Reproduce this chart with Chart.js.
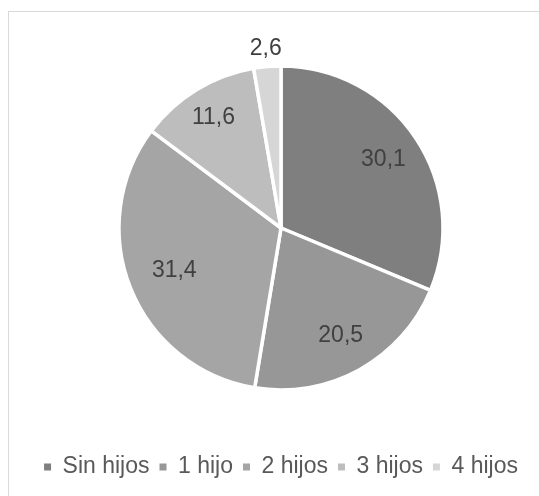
<!DOCTYPE html>
<html>
<head>
<meta charset="utf-8">
<script src="https://cdn.jsdelivr.net/npm/chart.js@4"></script>
<style>
  html, body { margin: 0; padding: 0; background: #ffffff; }
  #wrap { position: relative; width: 539px; height: 496px; overflow: hidden; }
  #frame { position: absolute; left: 8px; top: 11px; width: 700px; height: 700px;
           border: 1px solid #d9d9d9; box-sizing: border-box; }
  #c { position: absolute; left: 0; top: 0; }
</style>
</head>
<body>
<div id="wrap">
  <div id="frame"></div>
  <canvas id="c" width="539" height="496"></canvas>
</div>
<script>
// ---- data ----
const categories = ['Sin hijos', '1 hijo', '2 hijos', '3 hijos', '4 hijos'];
const values = [30.1, 20.5, 31.4, 11.6, 2.6];

// ---- styling ----
const sliceColors = ['#7f7f7f', '#979797', '#a5a5a5', '#bdbdbd', '#d6d6d6'];
const labelRadiusFactor = [0.76, 0.76, 0.71, 0.80, 1.11];
const FONT = "'Liberation Sans', Arial, sans-serif";

const sliceLabels = {
  id: 'sliceLabels',
  afterDatasetsDraw(chart) {
    const ctx = chart.ctx;
    const meta = chart.getDatasetMeta(0);
    ctx.save();
    ctx.font = '23px ' + FONT;
    ctx.fillStyle = '#404040';
    ctx.textAlign = 'center';
    ctx.textBaseline = 'middle';
    meta.data.forEach((arc, i) => {
      const p = arc.getProps(['x', 'y', 'startAngle', 'endAngle', 'outerRadius'], true);
      const mid = (p.startAngle + p.endAngle) / 2;
      const r = p.outerRadius * labelRadiusFactor[i];
      const txt = values[i].toFixed(1).replace('.', ',');
      ctx.fillText(txt, p.x + Math.cos(mid) * r, p.y + Math.sin(mid) * r);
    });
    ctx.restore();
  }
};

new Chart(document.getElementById('c'), {
  type: 'pie',
  data: {
    labels: categories,
    datasets: [{
      data: values,
      backgroundColor: sliceColors,
      borderColor: '#ffffff',
      borderWidth: 3.5,
      radius: 162
    }]
  },
  options: {
    responsive: false,
    animation: false,
    layout: { padding: { top: 10.5, bottom: 7.5, left: 23, right: 0 } },
    plugins: {
      tooltip: { enabled: false },
      legend: {
        position: 'bottom',
        labels: {
          boxWidth: 7,
          boxHeight: 7,
          padding: 10,
          color: '#595959',
          font: { family: FONT, size: 23 },
          generateLabels(chart) {
            const items = Chart.controllers.pie.overrides.plugins.legend.labels.generateLabels(chart);
            items.forEach(it => { it.lineWidth = 0; it.strokeStyle = 'rgba(0,0,0,0)'; });
            return items;
          }
        }
      }
    }
  },
  plugins: [sliceLabels]
});
</script>
</body>
</html>
